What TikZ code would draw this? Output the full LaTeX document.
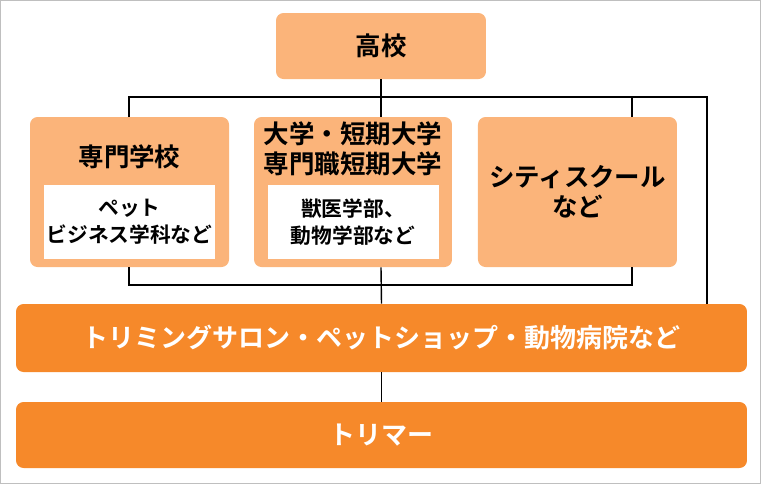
\documentclass[tikz,border=0pt]{standalone}
\usepackage{fontspec}
\newfontfamily\cjk{Noto Sans CJK JP}[BoldFont={Noto Sans CJK JP Bold}]
\usetikzlibrary{positioning}
\definecolor{lightorange}{HTML}{FBB47A}
\definecolor{darkorange}{HTML}{F6892A}
\begin{document}
\begin{tikzpicture}[x=0.02cm,y=-0.02cm,
box/.style={rectangle,rounded corners=1.5mm,fill=lightorange,inner sep=0pt,font=\cjk\bfseries\fontsize{14.5}{17}\selectfont,align=center},
bigbox/.style={rectangle,rounded corners=1.5mm,fill=darkorange,inner sep=0pt,text=white,font=\cjk\bfseries\fontsize{14.8}{17}\selectfont},
inner/.style={rectangle,fill=white,inner sep=0pt,minimum width=171*0.02cm,minimum height=74*0.02cm,font=\cjk\bfseries\fontsize{11.8}{15.5}\selectfont,align=center},
line/.style={draw=black,line width=0.8pt}]
\draw[gray!50,line width=0.6pt] (0.5,0.5) rectangle (760.5,483.5);
\node[box,minimum width=210*0.02cm,minimum height=66*0.02cm] (koko) at (381,46) {高校};
\node[box,minimum width=199*0.02cm,minimum height=150*0.02cm] (senmon) at (129.5,192) {};
\node[box,minimum width=198*0.02cm,minimum height=150*0.02cm] (daigaku) at (353,192) {};
\node[box,minimum width=199*0.02cm,minimum height=150*0.02cm] (city) at (577.5,192) {シティスクール\\など};
\node[font=\cjk\bfseries\fontsize{14.5}{17}\selectfont] (senmonlbl) at (129.5,157) {専門学校};
\node[font=\cjk\bfseries\fontsize{14.5}{17}\selectfont,align=center] (daigakulbl) at (353,149) {大学・短期大学\\専門職短期大学};
\node[inner] (pet) at (129.5,222) {ペット\\ビジネス学科など};
\node[inner] (juui) at (353,222) {獣医学部、\\動物学部など};
\node[bigbox,minimum width=731*0.02cm,minimum height=68*0.02cm] (salon) at (381.5,338) {トリミングサロン・ペットショップ・動物病院など};
\node[bigbox,minimum width=731*0.02cm,minimum height=66*0.02cm] (trimmer) at (381.5,435) {トリマー};
\coordinate (top) at (381,97);
\coordinate (bot) at (381,285);
\begin{scope}[line]
 \draw (koko.south) -- (top);
 \draw (129,117) |- (707,97) -- (salon.north -| 707,0);
 \draw (daigaku.north -| top) -- (top);
 \draw (632,117) -- (632,97);
 \draw (129,267) |- (632,285) -- (632,267);
 \draw (daigaku.south -| bot) -- (salon.north);
 \draw (salon.south) -- (trimmer.north);
\end{scope}
\end{tikzpicture}
\end{document}
